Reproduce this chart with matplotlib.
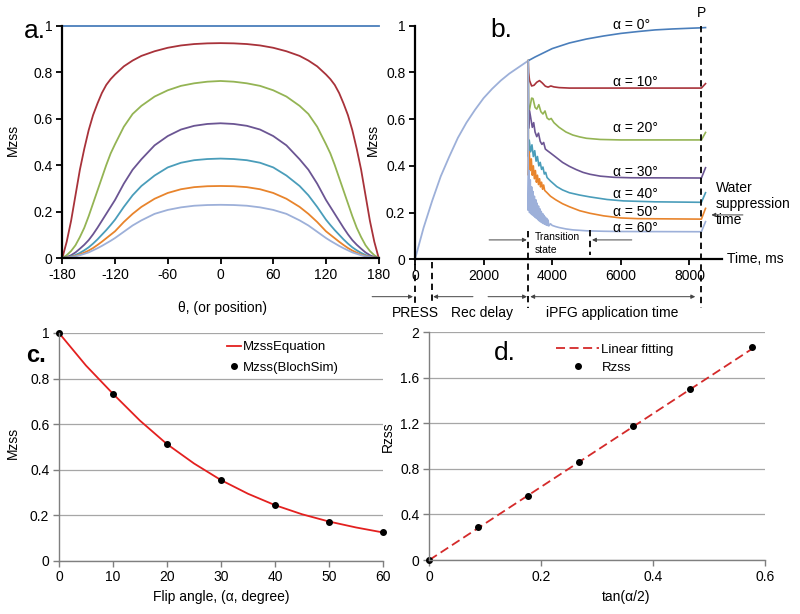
import matplotlib.pyplot as plt

plt.rcParams['font.family'] = ['Liberation Sans', 'DejaVu Sans']
plt.rcParams['axes.unicode_minus'] = False
plt.rcParams['font.size'] = 10

theta_half = [-180, -175, -170, -165, -160, -155, -150, -145, -140, -135, -130, -125, -120,
              -110, -100, -90, -75, -60, -45, -30, -15, 0]
mz_a0 = [1.0] * 22
mz_a1 = [0, 0.07, 0.16, 0.27, 0.38, 0.47, 0.55, 0.615, 0.665, 0.71, 0.745, 0.77, 0.79,
         0.825, 0.85, 0.87, 0.89, 0.905, 0.915, 0.921, 0.924, 0.925]
mz_a2 = [0, 0.012, 0.03, 0.055, 0.09, 0.13, 0.18, 0.235, 0.29, 0.345, 0.40, 0.45, 0.49,
         0.565, 0.62, 0.655, 0.695, 0.722, 0.741, 0.752, 0.759, 0.762]
mz_a3 = [0, 0.004, 0.012, 0.024, 0.04, 0.057, 0.077, 0.102, 0.13, 0.16, 0.19, 0.22, 0.25,
         0.32, 0.38, 0.425, 0.485, 0.525, 0.553, 0.569, 0.577, 0.58]
mz_a4 = [0, 0.002, 0.007, 0.013, 0.022, 0.033, 0.046, 0.062, 0.08, 0.10, 0.12, 0.142, 0.165,
         0.22, 0.27, 0.31, 0.355, 0.39, 0.41, 0.421, 0.426, 0.428]
mz_a5 = [0, 0.0015, 0.005, 0.009, 0.015, 0.023, 0.032, 0.043, 0.056, 0.07, 0.085, 0.10, 0.115,
         0.155, 0.19, 0.22, 0.255, 0.28, 0.296, 0.305, 0.309, 0.31]
mz_a6 = [0, 0.001, 0.004, 0.007, 0.012, 0.018, 0.024, 0.033, 0.042, 0.052, 0.063, 0.074, 0.086,
         0.113, 0.14, 0.162, 0.19, 0.207, 0.218, 0.225, 0.228, 0.229]

# ---- panel b: time course ----
recov_t = [0, 250, 500, 750, 1000, 1250, 1500, 1750, 2000, 2250, 2500, 2750, 3000, 3300]
recov_m = [0, 0.135, 0.25, 0.355, 0.44, 0.52, 0.585, 0.64, 0.69, 0.73, 0.765, 0.795, 0.82, 0.85]

b0_t = [3300, 3500, 4000, 4500, 5000, 5500, 6000, 6500, 7000, 7500, 8000, 8350, 8470]
b0_m = [0.85, 0.866, 0.902, 0.926, 0.943, 0.956, 0.967, 0.975, 0.982, 0.986, 0.989, 0.991, 0.992]

b10_t = [3300, 3310, 3340, 3400, 3470, 3550, 3630, 3710, 3800, 3880, 3960, 4050, 4200, 4500, 5000, 8350, 8470]
b10_m = [0.85, 0.80, 0.765, 0.742, 0.745, 0.758, 0.765, 0.755, 0.741, 0.737, 0.742, 0.738, 0.735, 0.733, 0.733, 0.733, 0.752]

b20_t = [3300, 3310, 3350, 3400, 3440, 3500, 3550, 3610, 3670, 3730, 3790, 3850, 3910, 3970, 4050, 4200,
         4400, 4600, 4800, 5000, 5400, 6000, 8350, 8470]
b20_m = [0.85, 0.62, 0.65, 0.69, 0.688, 0.65, 0.643, 0.662, 0.632, 0.622, 0.635, 0.605, 0.598, 0.603, 0.585, 0.565,
         0.545, 0.532, 0.524, 0.518, 0.513, 0.511, 0.511, 0.543]

b30_t = [3300, 3310, 3340, 3380, 3420, 3460, 3500, 3550, 3600, 3650, 3700, 3750, 3800, 3850, 3950, 4100,
         4300, 4500, 4700, 4900, 5100, 5400, 5800, 6300, 8350, 8470]
b30_m = [0.85, 0.56, 0.635, 0.60, 0.565, 0.585, 0.545, 0.525, 0.54, 0.505, 0.492, 0.5, 0.472, 0.466, 0.455, 0.438,
         0.415, 0.398, 0.384, 0.372, 0.364, 0.356, 0.351, 0.349, 0.348, 0.392]

b40_t = [3300, 3305, 3330, 3370, 3410, 3450, 3490, 3530, 3570, 3610, 3650, 3690, 3730, 3770, 3810, 3850,
         3950, 4135, 4300, 4500, 4800, 5100, 5600, 6075, 7000, 8350, 8470]
b40_m = [0.85, 0.44, 0.51, 0.46, 0.49, 0.44, 0.465, 0.42, 0.44, 0.40, 0.415, 0.385, 0.395, 0.365, 0.372, 0.35,
         0.335, 0.311, 0.297, 0.285, 0.275, 0.267, 0.256, 0.25, 0.246, 0.244, 0.285]

b50_t = [3300, 3305, 3330, 3360, 3390, 3420, 3450, 3480, 3510, 3540, 3570, 3600, 3630, 3660, 3690, 3720,
         3750, 3780, 3850, 3950, 4100, 4300, 4500, 4800, 5100, 5500, 6000, 6500, 8350, 8470]
b50_m = [0.85, 0.36, 0.46, 0.38, 0.43, 0.36, 0.40, 0.345, 0.38, 0.33, 0.36, 0.32, 0.345, 0.31, 0.33, 0.30,
         0.318, 0.295, 0.285, 0.27, 0.255, 0.238, 0.225, 0.208, 0.197, 0.186, 0.177, 0.174, 0.172, 0.218]

b60_t = [3300, 3300, 3320, 3340, 3360, 3380, 3400, 3420, 3440, 3460, 3480, 3500, 3520, 3540, 3560, 3580,
         3600, 3620, 3640, 3660, 3680, 3700, 3720, 3740, 3760, 3780, 3800, 3820, 3840, 3860, 3880, 3900,
         3950, 4000, 4100, 4200, 4400, 4600, 5000, 5500, 6000, 8350, 8470]
b60_m = [0.85, 0.21, 0.38, 0.20, 0.34, 0.195, 0.31, 0.19, 0.29, 0.185, 0.27, 0.18, 0.255, 0.175, 0.24, 0.17,
         0.228, 0.165, 0.216, 0.16, 0.205, 0.157, 0.196, 0.153, 0.188, 0.15, 0.181, 0.147, 0.175, 0.145, 0.168, 0.143,
         0.152, 0.145, 0.14, 0.136, 0.13, 0.126, 0.122, 0.12, 0.119, 0.118, 0.161]

alpha_labels = ['α = 0°', 'α = 10°', 'α = 20°', 'α = 30°', 'α = 40°', 'α = 50°', 'α = 60°']
alpha_label_y = [1.003, 0.76, 0.561, 0.375, 0.28, 0.204, 0.135]

# ---- panel c ----
flip_line = [0, 5, 10, 15, 20, 25, 30, 35, 40, 45, 50, 55, 60]
mz_equation = [1.0, 0.857, 0.733, 0.615, 0.512, 0.427, 0.354, 0.294, 0.244, 0.204, 0.172, 0.146, 0.124]
flip_sim = [0, 10, 20, 30, 40, 50, 60]
mz_sim = [1.0, 0.733, 0.512, 0.354, 0.244, 0.172, 0.124]

# ---- panel d ----
tan_half = [0, 0.087, 0.176, 0.268, 0.364, 0.466, 0.577]
rzss = [0, 0.287, 0.565, 0.858, 1.177, 1.502, 1.869]
fit_x = [0, 0.577]
fit_y = [0, 1.855]

colors = ['#4A7EBB', '#A8323A', '#94B454', '#6B5593', '#4A9DBA', '#E8842C', '#9DB0D9']

W, H = 800, 614
fig = plt.figure(figsize=(8, 6.14), dpi=100)


def ax_px(left, top, right, bottom):
    return fig.add_axes([left / W, 1 - bottom / H, (right - left) / W, (bottom - top) / H])


def ftext(x, y, s, **kw):
    fig.text(x / W, 1 - y / H, s, **kw)


def style_black(ax):
    for s in ['top', 'right']:
        ax.spines[s].set_visible(False)
    for s in ['left', 'bottom']:
        ax.spines[s].set_linewidth(1.6)
    ax.tick_params(direction='out', length=4, width=1.3, labelsize=10, pad=3)


def style_gray(ax):
    for s in ['top', 'right']:
        ax.spines[s].set_visible(False)
    for s in ['left', 'bottom']:
        ax.spines[s].set_color('#7f7f7f')
        ax.spines[s].set_linewidth(1.0)
    ax.tick_params(direction='out', length=4, width=1.0, color='#7f7f7f', labelsize=10, pad=3)
    ax.yaxis.grid(True, color='#a6a6a6', lw=0.9)
    ax.set_axisbelow(True)


# ---------------- a ----------------
axa = ax_px(62.3, 25.7, 378.7, 258)
style_black(axa)
theta_full = theta_half + [-t for t in theta_half[-2::-1]]
for vals, c in zip([mz_a0, mz_a1, mz_a2, mz_a3, mz_a4, mz_a5, mz_a6], colors):
    axa.plot(theta_full, vals + vals[-2::-1], color=c, lw=1.3, clip_on=False)
axa.set_xlim(-180, 180)
axa.set_ylim(0, 1)
axa.set_xticks([-180, -120, -60, 0, 60, 120, 180], ['-180', '-120', '-60', '0', '60', '120', '180'])
axa.set_yticks([0, 0.2, 0.4, 0.6, 0.8, 1], ['0', '0.2', '0.4', '0.6', '0.8', '1'])
ftext(13, 140, 'Mzss', rotation=90, ha='center', va='center', fontsize=10)
ftext(223, 308, 'θ, (or position)', ha='center', va='center', fontsize=10)
ftext(24, 31, 'a.', ha='left', va='center', fontsize=19)

# ---------------- b ----------------
axb = ax_px(415, 25.7, 722, 259.3)
style_black(axb)
axb.set_xlim(0, 8950)
axb.set_ylim(0, 1)
axb.set_xticks([0, 2000, 4000, 6000, 8000], ['0', '2000', '4000', '6000', '8000'])
axb.set_yticks([0, 0.2, 0.4, 0.6, 0.8, 1], ['0', '0.2', '0.4', '0.6', '0.8', '1'])
axb.plot(recov_t, recov_m, color=colors[6], lw=1.3)
series_b = [(b0_t, b0_m), (b10_t, b10_m), (b20_t, b20_m), (b30_t, b30_m),
            (b40_t, b40_m), (b50_t, b50_m), (b60_t, b60_m)]
for (t, m), c in zip(series_b, colors):
    axb.plot(t, m, color=c, lw=1.2, clip_on=False)
for lab, yy in zip(alpha_labels, alpha_label_y):
    axb.text(5770, yy, lab, ha='left', va='center', fontsize=10)

dash = dict(color='black', lw=1.3, dashes=(3.5, 2.5), clip_on=False)
axb.plot([8350, 8350], [1.0, -0.208], **dash)
axb.plot([3300, 3300], [0.12, -0.208], **dash)
axb.plot([5100, 5100], [0.125, 0.018], **dash)
axb.plot([0, 0], [-0.02, -0.19], **dash)
axb.plot([500, 500], [-0.01, -0.19], **dash)

arr = dict(arrowstyle='-|>', lw=0.7, color='#444444', mutation_scale=6, shrinkA=0, shrinkB=0)
arr2 = dict(arrowstyle='<|-|>', lw=0.7, color='#444444', mutation_scale=6, shrinkA=0, shrinkB=0)


def arrow(x0, y0, x1, y1, props):
    axb.annotate('', xy=(x1, y1), xytext=(x0, y0), arrowprops=props, annotation_clip=False)


arrow(2160, 0.083, 3260, 0.083, arr)
arrow(6320, 0.083, 5160, 0.083, arr)
arrow(-1250, -0.16, -60, -0.16, arr)
arrow(1690, -0.16, 530, -0.16, arr)
arrow(2130, -0.16, 3265, -0.16, arr)
arrow(3360, -0.16, 8170, -0.16, arr2)
arrow(9560, 0.19, 8640, 0.19, arr)

axb.text(3500, 0.094, 'Transition', ha='left', va='center', fontsize=7.5)
axb.text(3500, 0.040, 'state', ha='left', va='center', fontsize=7.5)
axb.text(0, -0.232, 'PRESS', ha='center', va='center', fontsize=10)
axb.text(1945, -0.232, 'Rec delay', ha='center', va='center', fontsize=10)
axb.text(5737, -0.232, 'iPFG application time', ha='center', va='center', fontsize=10)
axb.text(9083, 0.0, 'Time, ms', ha='left', va='center', fontsize=10, clip_on=False)
axb.text(8780, 0.237, 'Water\nsuppression\ntime', ha='left', va='center', fontsize=10,
         linespacing=1.2, clip_on=False)
axb.text(8350, 1.056, 'P', ha='center', va='center', fontsize=10, clip_on=False)
ftext(373, 140, 'Mzss', rotation=90, ha='center', va='center', fontsize=10)
ftext(490, 30, 'b.', ha='left', va='center', fontsize=19)

# ---------------- c ----------------
axc = ax_px(59, 333, 383, 560.7)
style_gray(axc)
axc.plot(flip_line, mz_equation, color='#E3201F', lw=1.3, label='MzssEquation')
axc.plot(flip_sim, mz_sim, 'o', color='black', ms=4, clip_on=False, label='Mzss(BlochSim)')
axc.set_xlim(0, 60)
axc.set_ylim(0, 1)
axc.set_xticks([0, 10, 20, 30, 40, 50, 60], ['0', '10', '20', '30', '40', '50', '60'])
axc.set_yticks([0, 0.2, 0.4, 0.6, 0.8, 1], ['0', '0.2', '0.4', '0.6', '0.8', '1'])
axc.legend(loc='upper left', bbox_to_anchor=(0.518, 0.965), frameon=False, fontsize=9.5,
           handlelength=1.1, handletextpad=0.1, borderpad=0, borderaxespad=0, labelspacing=0.65)
ftext(13, 443, 'Mzss', rotation=90, ha='center', va='center', fontsize=10)
ftext(221, 597, 'Flip angle, (α, degree)', ha='center', va='center', fontsize=10)
ftext(26, 355, 'c.', ha='left', va='center', fontsize=17, fontweight='bold')

# ---------------- d ----------------
axd = ax_px(429.3, 332.3, 765, 560)
style_gray(axd)
axd.plot(fit_x, fit_y, color='#D42A2A', lw=1.3, dashes=(5, 2.5), label='Linear fitting')
axd.plot(tan_half, rzss, 'o', color='black', ms=4, clip_on=False, label='Rzss')
axd.set_xlim(0, 0.6)
axd.set_ylim(0, 2)
axd.set_xticks([0, 0.2, 0.4, 0.6], ['0', '0.2', '0.4', '0.6'])
axd.set_yticks([0, 0.4, 0.8, 1.2, 1.6, 2], ['0', '0.4', '0.8', '1.2', '1.6', '2'])
axd.legend(loc='upper left', bbox_to_anchor=(0.377, 0.95), frameon=False, fontsize=9.5,
           handlelength=3.3, handletextpad=0.15, borderpad=0, borderaxespad=0, labelspacing=0.45)
ftext(388, 437, 'Rzss', rotation=90, ha='center', va='center', fontsize=10)
ftext(626, 597, 'tan(α/2)', ha='center', va='center', fontsize=10)
ftext(494, 353, 'd.', ha='left', va='center', fontsize=19)

fig.savefig('out.png', dpi=100)
